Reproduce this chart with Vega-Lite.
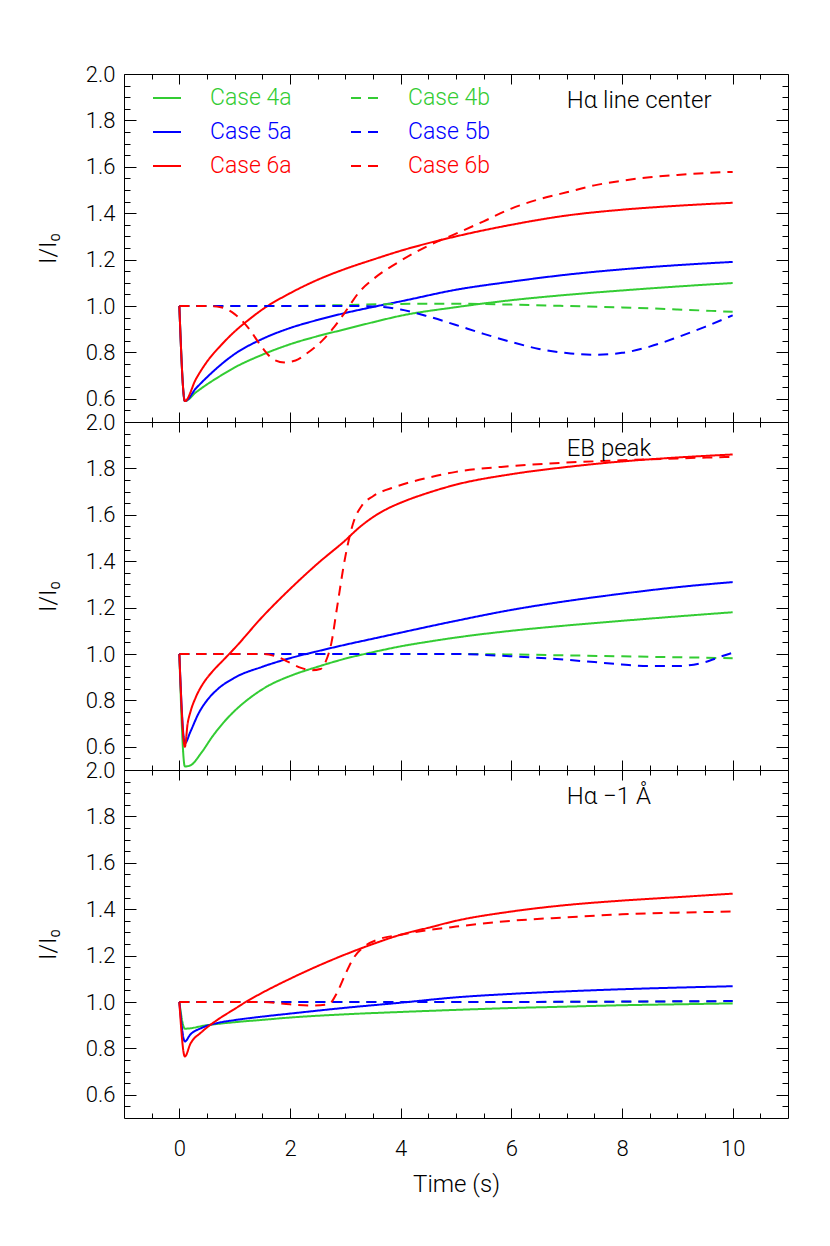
{
  "$schema": "https://vega.github.io/schema/vega-lite/v6.json",
  "padding": {"left": 36, "top": 63, "right": 27, "bottom": 40},
  "autosize": {"type": "pad"},
  "spacing": 0,
  "bounds": "flush",
  "resolve": {"legend": {"color": "independent", "strokeDash": "independent"}},
  "datasets": {
    "p1": [
      {"series":"Case 4a","time":0,"ratio":1.0},{"series":"Case 4a","time":0.1,"ratio":0.59},{"series":"Case 4a","time":0.3,"ratio":0.628},{"series":"Case 4a","time":0.5,"ratio":0.662},{"series":"Case 4a","time":0.75,"ratio":0.7},{"series":"Case 4a","time":1,"ratio":0.735},{"series":"Case 4a","time":1.5,"ratio":0.79},{"series":"Case 4a","time":2,"ratio":0.835},{"series":"Case 4a","time":2.5,"ratio":0.87},{"series":"Case 4a","time":3,"ratio":0.9},{"series":"Case 4a","time":3.5,"ratio":0.93},{"series":"Case 4a","time":4,"ratio":0.958},{"series":"Case 4a","time":5,"ratio":0.995},{"series":"Case 4a","time":6,"ratio":1.025},{"series":"Case 4a","time":7,"ratio":1.048},{"series":"Case 4a","time":8,"ratio":1.067},{"series":"Case 4a","time":9,"ratio":1.084},{"series":"Case 4a","time":10,"ratio":1.099},
      {"series":"Case 5a","time":0,"ratio":1.0},{"series":"Case 5a","time":0.1,"ratio":0.59},{"series":"Case 5a","time":0.3,"ratio":0.645},{"series":"Case 5a","time":0.5,"ratio":0.693},{"series":"Case 5a","time":0.75,"ratio":0.747},{"series":"Case 5a","time":1,"ratio":0.793},{"series":"Case 5a","time":1.5,"ratio":0.858},{"series":"Case 5a","time":2,"ratio":0.905},{"series":"Case 5a","time":2.5,"ratio":0.94},{"series":"Case 5a","time":3,"ratio":0.97},{"series":"Case 5a","time":3.5,"ratio":0.996},{"series":"Case 5a","time":4,"ratio":1.02},{"series":"Case 5a","time":5,"ratio":1.07},{"series":"Case 5a","time":6,"ratio":1.105},{"series":"Case 5a","time":7,"ratio":1.135},{"series":"Case 5a","time":8,"ratio":1.158},{"series":"Case 5a","time":9,"ratio":1.176},{"series":"Case 5a","time":10,"ratio":1.19},
      {"series":"Case 6a","time":0,"ratio":1.0},{"series":"Case 6a","time":0.1,"ratio":0.59},{"series":"Case 6a","time":0.3,"ratio":0.685},{"series":"Case 6a","time":0.5,"ratio":0.76},{"series":"Case 6a","time":0.75,"ratio":0.83},{"series":"Case 6a","time":1,"ratio":0.89},{"series":"Case 6a","time":1.25,"ratio":0.94},{"series":"Case 6a","time":1.5,"ratio":0.985},{"series":"Case 6a","time":2,"ratio":1.055},{"series":"Case 6a","time":2.5,"ratio":1.113},{"series":"Case 6a","time":3,"ratio":1.16},{"series":"Case 6a","time":3.5,"ratio":1.2},{"series":"Case 6a","time":4,"ratio":1.238},{"series":"Case 6a","time":5,"ratio":1.3},{"series":"Case 6a","time":6,"ratio":1.35},{"series":"Case 6a","time":7,"ratio":1.39},{"series":"Case 6a","time":8,"ratio":1.415},{"series":"Case 6a","time":9,"ratio":1.432},{"series":"Case 6a","time":10,"ratio":1.445},
      {"series":"Case 4b","time":0,"ratio":1.0},{"series":"Case 4b","time":2,"ratio":1.0},{"series":"Case 4b","time":3,"ratio":1.004},{"series":"Case 4b","time":4,"ratio":1.009},{"series":"Case 4b","time":5,"ratio":1.01},{"series":"Case 4b","time":6,"ratio":1.006},{"series":"Case 4b","time":7,"ratio":1.0},{"series":"Case 4b","time":8,"ratio":0.994},{"series":"Case 4b","time":9,"ratio":0.985},{"series":"Case 4b","time":10,"ratio":0.975},
      {"series":"Case 5b","time":0,"ratio":1.0},{"series":"Case 5b","time":3,"ratio":1.0},{"series":"Case 5b","time":3.5,"ratio":0.998},{"series":"Case 5b","time":4,"ratio":0.985},{"series":"Case 5b","time":4.5,"ratio":0.955},{"series":"Case 5b","time":5,"ratio":0.918},{"series":"Case 5b","time":5.5,"ratio":0.88},{"series":"Case 5b","time":6,"ratio":0.845},{"series":"Case 5b","time":6.5,"ratio":0.815},{"series":"Case 5b","time":7,"ratio":0.797},{"series":"Case 5b","time":7.5,"ratio":0.79},{"series":"Case 5b","time":8,"ratio":0.798},{"series":"Case 5b","time":8.5,"ratio":0.825},{"series":"Case 5b","time":9,"ratio":0.865},{"series":"Case 5b","time":9.5,"ratio":0.91},{"series":"Case 5b","time":10,"ratio":0.96},
      {"series":"Case 6b","time":0,"ratio":1.0},{"series":"Case 6b","time":0.5,"ratio":1.0},{"series":"Case 6b","time":0.75,"ratio":0.995},{"series":"Case 6b","time":1.0,"ratio":0.965},{"series":"Case 6b","time":1.25,"ratio":0.905},{"series":"Case 6b","time":1.5,"ratio":0.82},{"series":"Case 6b","time":1.7,"ratio":0.77},{"series":"Case 6b","time":1.9,"ratio":0.757},{"series":"Case 6b","time":2.1,"ratio":0.765},{"series":"Case 6b","time":2.3,"ratio":0.795},{"series":"Case 6b","time":2.6,"ratio":0.855},{"series":"Case 6b","time":2.8,"ratio":0.91},{"series":"Case 6b","time":3.0,"ratio":0.975},{"series":"Case 6b","time":3.25,"ratio":1.06},{"series":"Case 6b","time":3.5,"ratio":1.115},{"series":"Case 6b","time":4,"ratio":1.195},{"series":"Case 6b","time":4.5,"ratio":1.26},{"series":"Case 6b","time":5,"ratio":1.312},{"series":"Case 6b","time":5.5,"ratio":1.365},{"series":"Case 6b","time":6,"ratio":1.42},{"series":"Case 6b","time":6.5,"ratio":1.46},{"series":"Case 6b","time":7,"ratio":1.49},{"series":"Case 6b","time":7.5,"ratio":1.52},{"series":"Case 6b","time":8,"ratio":1.54},{"series":"Case 6b","time":8.5,"ratio":1.555},{"series":"Case 6b","time":9,"ratio":1.565},{"series":"Case 6b","time":9.5,"ratio":1.573},{"series":"Case 6b","time":10,"ratio":1.578}
    ],
    "p2": [
      {"series":"Case 4a","time":0,"ratio":1.0},{"series":"Case 4a","time":0.1,"ratio":0.515},{"series":"Case 4a","time":0.2,"ratio":0.52},{"series":"Case 4a","time":0.4,"ratio":0.575},{"series":"Case 4a","time":0.6,"ratio":0.645},{"series":"Case 4a","time":0.8,"ratio":0.705},{"series":"Case 4a","time":1.0,"ratio":0.755},{"series":"Case 4a","time":1.3,"ratio":0.815},{"series":"Case 4a","time":1.6,"ratio":0.862},{"series":"Case 4a","time":2.0,"ratio":0.905},{"series":"Case 4a","time":2.5,"ratio":0.945},{"series":"Case 4a","time":3.0,"ratio":0.98},{"series":"Case 4a","time":3.5,"ratio":1.008},{"series":"Case 4a","time":4.0,"ratio":1.033},{"series":"Case 4a","time":4.5,"ratio":1.053},{"series":"Case 4a","time":5,"ratio":1.071},{"series":"Case 4a","time":6,"ratio":1.1},{"series":"Case 4a","time":7,"ratio":1.123},{"series":"Case 4a","time":8,"ratio":1.143},{"series":"Case 4a","time":9,"ratio":1.162},{"series":"Case 4a","time":10,"ratio":1.18},
      {"series":"Case 5a","time":0,"ratio":1.0},{"series":"Case 5a","time":0.1,"ratio":0.615},{"series":"Case 5a","time":0.2,"ratio":0.665},{"series":"Case 5a","time":0.35,"ratio":0.745},{"series":"Case 5a","time":0.5,"ratio":0.8},{"series":"Case 5a","time":0.7,"ratio":0.85},{"series":"Case 5a","time":1.0,"ratio":0.898},{"series":"Case 5a","time":1.5,"ratio":0.945},{"series":"Case 5a","time":2.0,"ratio":0.982},{"series":"Case 5a","time":2.5,"ratio":1.012},{"series":"Case 5a","time":3,"ratio":1.04},{"series":"Case 5a","time":3.5,"ratio":1.066},{"series":"Case 5a","time":4,"ratio":1.092},{"series":"Case 5a","time":4.5,"ratio":1.118},{"series":"Case 5a","time":5,"ratio":1.143},{"series":"Case 5a","time":6,"ratio":1.19},{"series":"Case 5a","time":7,"ratio":1.228},{"series":"Case 5a","time":8,"ratio":1.26},{"series":"Case 5a","time":9,"ratio":1.288},{"series":"Case 5a","time":10,"ratio":1.31},
      {"series":"Case 6a","time":0,"ratio":1.0},{"series":"Case 6a","time":0.1,"ratio":0.6},{"series":"Case 6a","time":0.15,"ratio":0.7},{"series":"Case 6a","time":0.2,"ratio":0.75},{"series":"Case 6a","time":0.3,"ratio":0.815},{"series":"Case 6a","time":0.45,"ratio":0.88},{"series":"Case 6a","time":0.6,"ratio":0.925},{"series":"Case 6a","time":0.8,"ratio":0.975},{"series":"Case 6a","time":1.0,"ratio":1.025},{"series":"Case 6a","time":1.5,"ratio":1.16},{"series":"Case 6a","time":2.0,"ratio":1.28},{"series":"Case 6a","time":2.5,"ratio":1.39},{"series":"Case 6a","time":3.0,"ratio":1.49},{"series":"Case 6a","time":3.25,"ratio":1.545},{"series":"Case 6a","time":3.5,"ratio":1.59},{"series":"Case 6a","time":3.75,"ratio":1.625},{"series":"Case 6a","time":4.0,"ratio":1.652},{"series":"Case 6a","time":4.5,"ratio":1.695},{"series":"Case 6a","time":5,"ratio":1.73},{"series":"Case 6a","time":6,"ratio":1.775},{"series":"Case 6a","time":7,"ratio":1.806},{"series":"Case 6a","time":8,"ratio":1.83},{"series":"Case 6a","time":9,"ratio":1.847},{"series":"Case 6a","time":10,"ratio":1.86},
      {"series":"Case 4b","time":0,"ratio":1.0},{"series":"Case 4b","time":5,"ratio":1.0},{"series":"Case 4b","time":6,"ratio":0.998},{"series":"Case 4b","time":7,"ratio":0.994},{"series":"Case 4b","time":8,"ratio":0.99},{"series":"Case 4b","time":9,"ratio":0.986},{"series":"Case 4b","time":10,"ratio":0.982},
      {"series":"Case 5b","time":0,"ratio":1.0},{"series":"Case 5b","time":5,"ratio":1.0},{"series":"Case 5b","time":6,"ratio":0.99},{"series":"Case 5b","time":7,"ratio":0.975},{"series":"Case 5b","time":7.5,"ratio":0.965},{"series":"Case 5b","time":8,"ratio":0.955},{"series":"Case 5b","time":8.5,"ratio":0.948},{"series":"Case 5b","time":9,"ratio":0.948},{"series":"Case 5b","time":9.5,"ratio":0.965},{"series":"Case 5b","time":9.8,"ratio":0.99},{"series":"Case 5b","time":10,"ratio":1.005},
      {"series":"Case 6b","time":0,"ratio":1.0},{"series":"Case 6b","time":1.5,"ratio":1.0},{"series":"Case 6b","time":1.8,"ratio":0.985},{"series":"Case 6b","time":2.0,"ratio":0.962},{"series":"Case 6b","time":2.2,"ratio":0.94},{"series":"Case 6b","time":2.4,"ratio":0.93},{"series":"Case 6b","time":2.55,"ratio":0.935},{"series":"Case 6b","time":2.65,"ratio":0.97},{"series":"Case 6b","time":2.75,"ratio":1.05},{"series":"Case 6b","time":2.85,"ratio":1.2},{"series":"Case 6b","time":3.0,"ratio":1.42},{"series":"Case 6b","time":3.15,"ratio":1.57},{"series":"Case 6b","time":3.3,"ratio":1.64},{"series":"Case 6b","time":3.5,"ratio":1.68},{"series":"Case 6b","time":3.9,"ratio":1.72},{"series":"Case 6b","time":4.5,"ratio":1.76},{"series":"Case 6b","time":5,"ratio":1.785},{"series":"Case 6b","time":6,"ratio":1.81},{"series":"Case 6b","time":7,"ratio":1.825},{"series":"Case 6b","time":8,"ratio":1.835},{"series":"Case 6b","time":9,"ratio":1.843},{"series":"Case 6b","time":10,"ratio":1.85}
    ],
    "p3": [
      {"series":"Case 4a","time":0,"ratio":1.0},{"series":"Case 4a","time":0.1,"ratio":0.885},{"series":"Case 4a","time":0.5,"ratio":0.9},{"series":"Case 4a","time":1,"ratio":0.913},{"series":"Case 4a","time":1.5,"ratio":0.923},{"series":"Case 4a","time":2,"ratio":0.933},{"series":"Case 4a","time":3,"ratio":0.947},{"series":"Case 4a","time":4,"ratio":0.957},{"series":"Case 4a","time":5,"ratio":0.966},{"series":"Case 4a","time":6,"ratio":0.974},{"series":"Case 4a","time":7,"ratio":0.98},{"series":"Case 4a","time":8,"ratio":0.986},{"series":"Case 4a","time":9,"ratio":0.99},{"series":"Case 4a","time":10,"ratio":0.994},
      {"series":"Case 5a","time":0,"ratio":1.0},{"series":"Case 5a","time":0.1,"ratio":0.83},{"series":"Case 5a","time":0.2,"ratio":0.86},{"series":"Case 5a","time":0.4,"ratio":0.888},{"series":"Case 5a","time":0.7,"ratio":0.91},{"series":"Case 5a","time":1,"ratio":0.922},{"series":"Case 5a","time":1.5,"ratio":0.937},{"series":"Case 5a","time":2,"ratio":0.95},{"series":"Case 5a","time":3,"ratio":0.975},{"series":"Case 5a","time":4,"ratio":0.997},{"series":"Case 5a","time":5,"ratio":1.02},{"series":"Case 5a","time":6,"ratio":1.035},{"series":"Case 5a","time":7,"ratio":1.046},{"series":"Case 5a","time":8,"ratio":1.055},{"series":"Case 5a","time":9,"ratio":1.062},{"series":"Case 5a","time":10,"ratio":1.068},
      {"series":"Case 6a","time":0,"ratio":1.0},{"series":"Case 6a","time":0.1,"ratio":0.765},{"series":"Case 6a","time":0.2,"ratio":0.82},{"series":"Case 6a","time":0.4,"ratio":0.87},{"series":"Case 6a","time":0.7,"ratio":0.925},{"series":"Case 6a","time":1,"ratio":0.97},{"series":"Case 6a","time":1.2,"ratio":1.0},{"series":"Case 6a","time":1.5,"ratio":1.04},{"series":"Case 6a","time":2,"ratio":1.1},{"series":"Case 6a","time":2.5,"ratio":1.155},{"series":"Case 6a","time":3,"ratio":1.205},{"series":"Case 6a","time":3.5,"ratio":1.25},{"series":"Case 6a","time":4,"ratio":1.29},{"series":"Case 6a","time":4.5,"ratio":1.32},{"series":"Case 6a","time":5,"ratio":1.35},{"series":"Case 6a","time":6,"ratio":1.39},{"series":"Case 6a","time":7,"ratio":1.418},{"series":"Case 6a","time":8,"ratio":1.437},{"series":"Case 6a","time":9,"ratio":1.452},{"series":"Case 6a","time":10,"ratio":1.467},
      {"series":"Case 4b","time":0,"ratio":1.0},{"series":"Case 4b","time":5,"ratio":1.0},{"series":"Case 4b","time":10,"ratio":1.003},
      {"series":"Case 5b","time":0,"ratio":1.0},{"series":"Case 5b","time":5,"ratio":1.0},{"series":"Case 5b","time":10,"ratio":1.004},
      {"series":"Case 6b","time":0,"ratio":1.0},{"series":"Case 6b","time":1.5,"ratio":1.0},{"series":"Case 6b","time":2.0,"ratio":0.99},{"series":"Case 6b","time":2.4,"ratio":0.985},{"series":"Case 6b","time":2.7,"ratio":0.99},{"series":"Case 6b","time":2.85,"ratio":1.04},{"series":"Case 6b","time":3.0,"ratio":1.12},{"series":"Case 6b","time":3.15,"ratio":1.19},{"series":"Case 6b","time":3.35,"ratio":1.24},{"series":"Case 6b","time":3.6,"ratio":1.27},{"series":"Case 6b","time":4,"ratio":1.29},{"series":"Case 6b","time":4.5,"ratio":1.31},{"series":"Case 6b","time":5,"ratio":1.325},{"series":"Case 6b","time":6,"ratio":1.35},{"series":"Case 6b","time":7,"ratio":1.365},{"series":"Case 6b","time":8,"ratio":1.378},{"series":"Case 6b","time":9,"ratio":1.385},{"series":"Case 6b","time":10,"ratio":1.39}
    ]
  },
  "vconcat": [
    {
      "width": 664, "height": 348,
      "resolve": {"axis": {"x": "independent", "y": "independent"}},
      "layer": [
        {
          "data": {"name": "p1"},
          "mark": {"type": "line", "strokeWidth": 2, "clip": true, "interpolate": "monotone"},
          "encoding": {
            "x": {"field": "time", "type": "quantitative", "scale": {"domain": [-1, 11], "nice": false, "zero": false},
              "axis": {"orient": "bottom", "values": [-0.5,0,0.5,1,1.5,2,2.5,3,3.5,4,4.5,5,5.5,6,6.5,7,7.5,8,8.5,9,9.5,10,10.5], "labels": false, "title": null,
                "tickSize": {"condition": {"test": "datum.value % 2 == 0", "value": -10}, "value": -5}}},
            "y": {"field": "ratio", "type": "quantitative", "scale": {"domain": [0.5, 2.0], "nice": false, "zero": false},
              "axis": {"orient": "left", "values": [0.55,0.6,0.65,0.7,0.75,0.8,0.85,0.9,0.95,1.0,1.05,1.1,1.15,1.2,1.25,1.3,1.35,1.4,1.45,1.5,1.55,1.6,1.65,1.7,1.75,1.8,1.85,1.9,1.95,2.0],
                "labelExpr": "abs(datum.value*5 - round(datum.value*5)) < 0.001 ? format(datum.value, '.1f') : ''",
                "labelPadding": 21, "title": "I/I₀", "titlePadding": 25,
                "tickSize": {"condition": {"test": "abs(datum.value*5 - round(datum.value*5)) < 0.001", "value": -12}, "value": -6}}},
            "color": {"field": "series", "type": "nominal",
              "scale": {"domain": ["Case 4a","Case 5a","Case 6a","Case 4b","Case 5b","Case 6b"], "range": ["#33cc33","#0000ff","#ff0000","#33cc33","#0000ff","#ff0000"]},
              "legend": {"title": null, "orient": "none", "legendX": 28, "legendY": 9, "columns": 2, "columnPadding": 55, "rowPadding": 7, "padding": 0,
                "symbolType": "stroke", "symbolSize": 784, "symbolStrokeWidth": 2, "labelOffset": 28, "labelFontSize": 23, "labelFont": "Roboto", "labelFontWeight": 300, "labelLimit": 300,
                "labelColor": {"expr": "scale('color', datum.value)"}}},
            "strokeDash": {"field": "series", "type": "nominal",
              "scale": {"domain": ["Case 4a","Case 5a","Case 6a","Case 4b","Case 5b","Case 6b"], "range": [[1,0],[1,0],[1,0],[10,7],[10,7],[10,7]]},
              "legend": {"title": null, "orient": "none", "legendX": 28, "legendY": 9, "columns": 2, "columnPadding": 55, "rowPadding": 7, "padding": 0,
                "symbolType": "stroke", "symbolSize": 784, "symbolStrokeWidth": 2, "labelOffset": 28, "labelFontSize": 23, "labelFont": "Roboto", "labelFontWeight": 300, "labelLimit": 300,
                "labelColor": {"expr": "scale('color', datum.value)"}}}
          }
        },
        {
          "data": {"values": [{"label": "Hα line center"}]},
          "mark": {"type": "text", "align": "left", "baseline": "middle", "fontSize": 24, "font": "Roboto", "fontWeight": 300, "color": "black"},
          "encoding": {
            "x": {"datum": 7.0, "type": "quantitative", "scale": {"domain": [-1, 11], "nice": false, "zero": false},
              "axis": {"orient": "top", "values": [-0.5,0,0.5,1,1.5,2,2.5,3,3.5,4,4.5,5,5.5,6,6.5,7,7.5,8,8.5,9,9.5,10,10.5], "labels": false, "title": null,
                "tickSize": {"condition": {"test": "datum.value % 2 == 0", "value": -10}, "value": -5}}},
            "y": {"datum": 1.885, "type": "quantitative", "scale": {"domain": [0.5, 2.0], "nice": false, "zero": false},
              "axis": {"orient": "right", "values": [0.55,0.6,0.65,0.7,0.75,0.8,0.85,0.9,0.95,1.0,1.05,1.1,1.15,1.2,1.25,1.3,1.35,1.4,1.45,1.5,1.55,1.6,1.65,1.7,1.75,1.8,1.85,1.9,1.95,2.0], "labels": false, "title": null,
                "tickSize": {"condition": {"test": "abs(datum.value*5 - round(datum.value*5)) < 0.001", "value": -12}, "value": -6}}},
            "text": {"field": "label"}
          }
        }
      ]
    },
    {
      "width": 664, "height": 348,
      "resolve": {"axis": {"x": "independent", "y": "independent"}},
      "layer": [
        {
          "data": {"name": "p2"},
          "mark": {"type": "line", "strokeWidth": 2, "clip": true, "interpolate": "monotone"},
          "encoding": {
            "x": {"field": "time", "type": "quantitative", "scale": {"domain": [-1, 11], "nice": false, "zero": false},
              "axis": {"orient": "bottom", "values": [-0.5,0,0.5,1,1.5,2,2.5,3,3.5,4,4.5,5,5.5,6,6.5,7,7.5,8,8.5,9,9.5,10,10.5], "labels": false, "title": null,
                "tickSize": {"condition": {"test": "datum.value % 2 == 0", "value": -10}, "value": -5}}},
            "y": {"field": "ratio", "type": "quantitative", "scale": {"domain": [0.5, 2.0], "nice": false, "zero": false},
              "axis": {"orient": "left", "values": [0.55,0.6,0.65,0.7,0.75,0.8,0.85,0.9,0.95,1.0,1.05,1.1,1.15,1.2,1.25,1.3,1.35,1.4,1.45,1.5,1.55,1.6,1.65,1.7,1.75,1.8,1.85,1.9,1.95,2.0],
                "labelExpr": "abs(datum.value*5 - round(datum.value*5)) < 0.001 ? format(datum.value, '.1f') : ''",
                "labelPadding": 21, "title": "I/I₀", "titlePadding": 25,
                "tickSize": {"condition": {"test": "abs(datum.value*5 - round(datum.value*5)) < 0.001", "value": -12}, "value": -6}}},
            "color": {"field": "series", "type": "nominal",
              "scale": {"domain": ["Case 4a","Case 5a","Case 6a","Case 4b","Case 5b","Case 6b"], "range": ["#33cc33","#0000ff","#ff0000","#33cc33","#0000ff","#ff0000"]}, "legend": null},
            "strokeDash": {"field": "series", "type": "nominal",
              "scale": {"domain": ["Case 4a","Case 5a","Case 6a","Case 4b","Case 5b","Case 6b"], "range": [[1,0],[1,0],[1,0],[10,7],[10,7],[10,7]]}, "legend": null}
          }
        },
        {
          "data": {"values": [{"label": "EB peak"}]},
          "mark": {"type": "text", "align": "left", "baseline": "middle", "fontSize": 24, "font": "Roboto", "fontWeight": 300, "color": "black"},
          "encoding": {
            "x": {"datum": 7.0, "type": "quantitative", "scale": {"domain": [-1, 11], "nice": false, "zero": false},
              "axis": {"orient": "top", "values": [-0.5,0,0.5,1,1.5,2,2.5,3,3.5,4,4.5,5,5.5,6,6.5,7,7.5,8,8.5,9,9.5,10,10.5], "labels": false, "title": null,
                "tickSize": {"condition": {"test": "datum.value % 2 == 0", "value": -10}, "value": -5}}},
            "y": {"datum": 1.885, "type": "quantitative", "scale": {"domain": [0.5, 2.0], "nice": false, "zero": false},
              "axis": {"orient": "right", "values": [0.55,0.6,0.65,0.7,0.75,0.8,0.85,0.9,0.95,1.0,1.05,1.1,1.15,1.2,1.25,1.3,1.35,1.4,1.45,1.5,1.55,1.6,1.65,1.7,1.75,1.8,1.85,1.9,1.95,2.0], "labels": false, "title": null,
                "tickSize": {"condition": {"test": "abs(datum.value*5 - round(datum.value*5)) < 0.001", "value": -12}, "value": -6}}},
            "text": {"field": "label"}
          }
        }
      ]
    },
    {
      "width": 664, "height": 348,
      "resolve": {"axis": {"x": "independent", "y": "independent"}},
      "layer": [
        {
          "data": {"name": "p3"},
          "mark": {"type": "line", "strokeWidth": 2, "clip": true, "interpolate": "monotone"},
          "encoding": {
            "x": {"field": "time", "type": "quantitative", "scale": {"domain": [-1, 11], "nice": false, "zero": false},
              "axis": {"orient": "bottom", "values": [-0.5,0,0.5,1,1.5,2,2.5,3,3.5,4,4.5,5,5.5,6,6.5,7,7.5,8,8.5,9,9.5,10,10.5],
                "labelExpr": "datum.value % 2 == 0 && datum.value >= 0 && datum.value <= 10 ? format(datum.value, 'd') : ''",
                "labelPadding": 30, "title": "Time (s)", "titlePadding": 8,
                "tickSize": {"condition": {"test": "datum.value % 2 == 0", "value": -10}, "value": -5}}},
            "y": {"field": "ratio", "type": "quantitative", "scale": {"domain": [0.5, 2.0], "nice": false, "zero": false},
              "axis": {"orient": "left", "values": [0.55,0.6,0.65,0.7,0.75,0.8,0.85,0.9,0.95,1.0,1.05,1.1,1.15,1.2,1.25,1.3,1.35,1.4,1.45,1.5,1.55,1.6,1.65,1.7,1.75,1.8,1.85,1.9,1.95,2.0],
                "labelExpr": "abs(datum.value*5 - round(datum.value*5)) < 0.001 ? format(datum.value, '.1f') : ''",
                "labelPadding": 21, "title": "I/I₀", "titlePadding": 25,
                "tickSize": {"condition": {"test": "abs(datum.value*5 - round(datum.value*5)) < 0.001", "value": -12}, "value": -6}}},
            "color": {"field": "series", "type": "nominal",
              "scale": {"domain": ["Case 4a","Case 5a","Case 6a","Case 4b","Case 5b","Case 6b"], "range": ["#33cc33","#0000ff","#ff0000","#33cc33","#0000ff","#ff0000"]}, "legend": null},
            "strokeDash": {"field": "series", "type": "nominal",
              "scale": {"domain": ["Case 4a","Case 5a","Case 6a","Case 4b","Case 5b","Case 6b"], "range": [[1,0],[1,0],[1,0],[10,7],[10,7],[10,7]]}, "legend": null}
          }
        },
        {
          "data": {"values": [{"label": "Hα −1 Å"}]},
          "mark": {"type": "text", "align": "left", "baseline": "middle", "fontSize": 24, "font": "Roboto", "fontWeight": 300, "color": "black"},
          "encoding": {
            "x": {"datum": 7.0, "type": "quantitative", "scale": {"domain": [-1, 11], "nice": false, "zero": false},
              "axis": {"orient": "top", "values": [-0.5,0,0.5,1,1.5,2,2.5,3,3.5,4,4.5,5,5.5,6,6.5,7,7.5,8,8.5,9,9.5,10,10.5], "labels": false, "title": null,
                "tickSize": {"condition": {"test": "datum.value % 2 == 0", "value": -10}, "value": -5}}},
            "y": {"datum": 1.885, "type": "quantitative", "scale": {"domain": [0.5, 2.0], "nice": false, "zero": false},
              "axis": {"orient": "right", "values": [0.55,0.6,0.65,0.7,0.75,0.8,0.85,0.9,0.95,1.0,1.05,1.1,1.15,1.2,1.25,1.3,1.35,1.4,1.45,1.5,1.55,1.6,1.65,1.7,1.75,1.8,1.85,1.9,1.95,2.0], "labels": false, "title": null,
                "tickSize": {"condition": {"test": "abs(datum.value*5 - round(datum.value*5)) < 0.001", "value": -12}, "value": -6}}},
            "text": {"field": "label"}
          }
        }
      ]
    }
  ],
  "config": {
    "font": "Roboto",
    "view": {"stroke": null},
    "axis": {
      "domainColor": "#000000", "domainWidth": 1, "tickColor": "#000000", "tickWidth": 1, "ticks": true,
      "labelColor": "#000000", "titleColor": "#000000", "labelFont": "Roboto", "titleFont": "Roboto",
      "labelFontSize": 22, "titleFontSize": 24, "labelFontWeight": 300, "titleFontWeight": 300,
      "grid": false, "labelOverlap": false, "labelFlush": false, "labelBound": false
    }
  }
}
